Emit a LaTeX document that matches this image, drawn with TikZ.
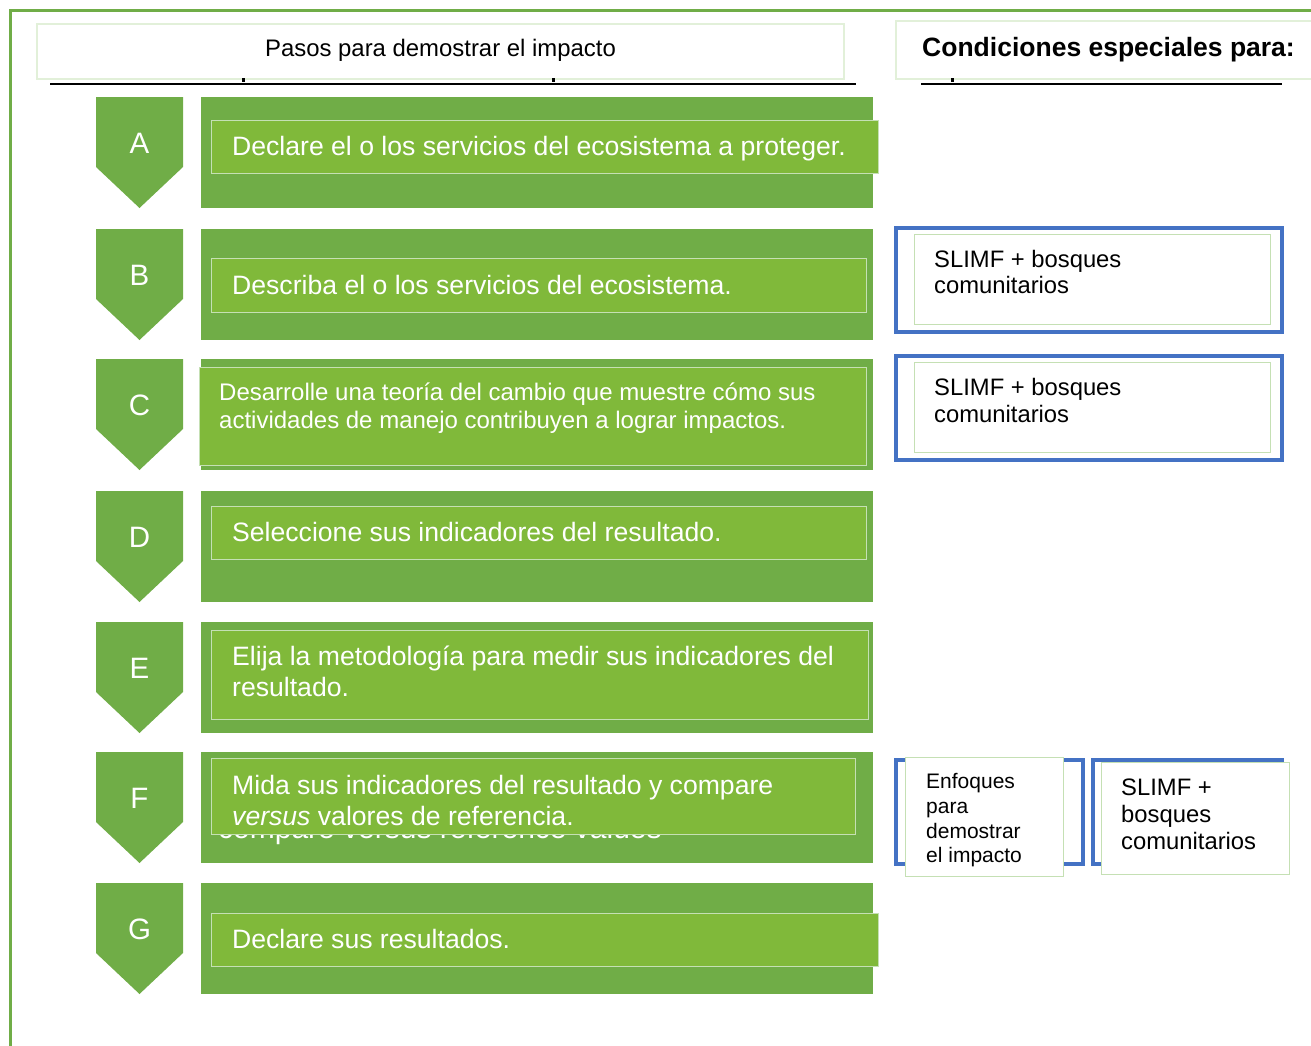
\documentclass[tikz,border=0pt]{standalone}
\usepackage{fontspec}
\setmainfont{Liberation Sans}
\definecolor{dkgreen}{HTML}{70AD47}
\definecolor{ltgreen}{HTML}{80B93A}
\definecolor{edgegreen}{HTML}{C5E0B4}
\definecolor{paleedge}{HTML}{E2F0D9}
\definecolor{blueedge}{HTML}{4472C4}
\begin{document}
\begin{tikzpicture}[x=1pt,y=-1pt,
  stepbar/.style={fill=dkgreen},
  stepinner/.style={fill=ltgreen, draw=edgegreen, line width=1pt},
  steptext/.style={text=white, anchor=base west, inner sep=0pt, font=\fontsize{26.6}{31}\selectfont},
  smalltext/.style={text=white, anchor=base west, inner sep=0pt, font=\fontsize{24}{28}\selectfont},
  letter/.style={text=white, anchor=base, inner sep=0pt, font=\fontsize{29.5}{33}\selectfont},
  headbox/.style={fill=white, draw=paleedge, line width=1.2pt},
  whitebox/.style={fill=white, draw=edgegreen, line width=1pt},
  bluebox/.style={draw=blueedge, line width=4.5pt},
  slimf/.style={anchor=base west, inner sep=0pt, font=\fontsize{23.8}{27}\selectfont},
  enf/.style={anchor=base west, inner sep=0pt, font=\fontsize{21}{24.5}\selectfont},
  rule/.style={draw=black, line width=2pt}]
\useasboundingbox (0,0) rectangle (1311,1045);
% outer frame
\draw[dkgreen, line width=3pt] (10,1046) -- (10,10) -- (1312,10);
% headers
\path[headbox] (37,24) rectangle (844,79);
\node[anchor=base, inner sep=0pt, font=\fontsize{23.9}{27}\selectfont] (hleft) at (440.5,56.6) {Pasos para demostrar el impacto};
\draw[rule] (50,84) -- (856,84);
\fill (242,78) rectangle (245,82);
\fill (552,78) rectangle (555,82);
\path[headbox] (896,21) rectangle (1320,79);
\node[anchor=base west, inner sep=0pt, font=\bfseries\fontsize{26.5}{30}\selectfont] (hright) at (922,56.5) {Condiciones especiales para:};
\draw[rule] (921,84) -- (1282,84);
\fill (951,78) rectangle (954,82);
% chevrons and bars
\foreach \t/\L in {97/A,229/B,359/C,491/D,622/E,752/F,883/G}{
  \path[stepbar] (96,\t) -- (183,\t) -- (183,\t+70) -- (139.5,\t+111) -- (96,\t+70) -- cycle;
  \node[letter] (chev\L) at (139.5,\t+56.3) {\L};
  \path[stepbar] (201,\t) rectangle (873,\t+111);
}
% ghost text under F, only its lower part shows
\begin{scope}
  \clip (205,835) rectangle (870,850);
  \node[steptext, font=\fontsize{30}{34}\selectfont] (ghostF) at (218,838) {compare versus reference values};
\end{scope}
% inner boxes
\path[stepinner] (211,120) rectangle (878,173);
\node[steptext] (tA) at (232,155.5) {Declare el o los servicios del ecosistema a proteger.};
\path[stepinner] (211,258) rectangle (866,312);
\node[steptext] (tB) at (232,294.5) {Describa el o los servicios del ecosistema.};
\path[stepinner] (199,367) rectangle (866,465);
\node[smalltext] (tC1) at (219,400.6) {Desarrolle una teoría del cambio que muestre cómo sus};
\node[smalltext] (tC2) at (219,428.6) {actividades de manejo contribuyen a lograr impactos.};
\path[stepinner] (211,506) rectangle (866,559);
\node[steptext] (tD) at (232,541.5) {Seleccione sus indicadores del resultado.};
\path[stepinner] (211,630) rectangle (868,719);
\node[steptext] (tE1) at (232,665.5) {Elija la metodología para medir sus indicadores del};
\node[steptext] (tE2) at (232,696.5) {resultado.};
\path[stepinner] (211,758) rectangle (855,834);
\node[steptext] (tF1) at (232,794.5) {Mida sus indicadores del resultado y compare};
\node[steptext] (tF2) at (232,825.5) {\textit{versus} valores de referencia.};
\path[stepinner] (211,913) rectangle (878,966);
\node[steptext] (tG) at (232,948.5) {Declare sus resultados.};
% right boxes
\path[bluebox] (896,228) rectangle (1282,332);
\path[whitebox] (914,234) rectangle (1270,324);
\node[slimf] (s1a) at (934,267) {SLIMF + bosques};
\node[slimf] (s1b) at (934,293) {comunitarios};
\path[bluebox] (896,356) rectangle (1282,460);
\path[whitebox] (914,362) rectangle (1270,452);
\node[slimf] (s2a) at (934,395) {SLIMF + bosques};
\node[slimf] (s2b) at (934,422) {comunitarios};
\path[bluebox] (896,760) rectangle (1083,864);
\path[whitebox] (905,757) rectangle (1063,876);
\node[enf] (e1) at (926,788) {Enfoques};
\node[enf] (e2) at (926,813) {para};
\node[enf] (e3) at (926,838) {demostrar};
\node[enf] (e4) at (926,862) {el impacto};
\path[bluebox] (1093,760) rectangle (1282,864);
\path[whitebox] (1101,762) rectangle (1289,874);
\node[slimf] (s3a) at (1121,795) {SLIMF +};
\node[slimf] (s3b) at (1121,822) {bosques};
\node[slimf] (s3c) at (1121,849) {comunitarios};
\end{tikzpicture}
\end{document}
